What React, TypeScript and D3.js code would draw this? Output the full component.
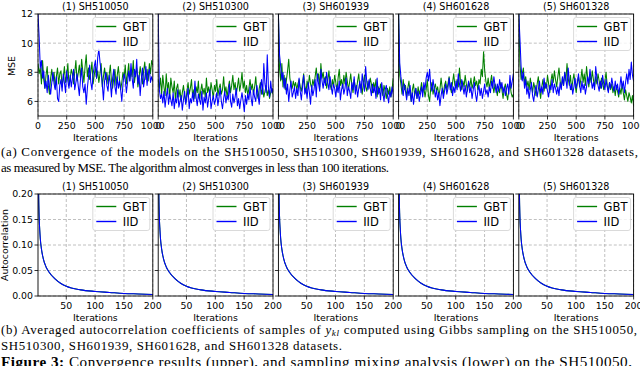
import React from "react";
import * as d3 from "d3";

const titles = ["(1) SH510050", "(2) SH510300", "(3) SH601939", "(4) SH601628", "(5) SH601328"];
const seriesNames = ["GBT", "IID"];
const seriesColors = ["#008000", "#0000ff"];

const mseTicksX = [0, 250, 500, 750, 1000];
const mseTicksY = [6, 8, 10, 12];
const acfTicksX = [50, 100, 150, 200];
const acfTicksY = [0, 0.05, 0.1, 0.15, 0.2];

// MSE sampled every 10 iterations (0..1000)
const mseGBT1 = [8.6, 7.9, 8.3, 7.2, 8.8, 7.5, 6.9, 7.8, 8.4, 7.1, 6.5, 7.6, 8.2, 7.4, 8.0, 6.9, 7.7, 8.3, 7.2, 7.9,
  8.1, 7.0, 7.6, 8.4, 7.3, 7.8, 8.6, 7.1, 7.5, 8.2, 7.9, 7.2, 8.0, 8.8, 7.4, 7.9, 8.5, 7.6, 8.9, 8.1,
  7.3, 8.4, 9.2, 7.7, 8.3, 7.5, 8.0, 8.7, 7.2, 7.8, 8.4, 7.6, 8.1, 7.3, 7.9, 8.6, 7.0, 7.7, 8.3, 7.5,
  8.0, 7.2, 7.8, 8.5, 7.4, 6.9, 7.6, 8.2, 7.1, 7.8, 8.4, 7.5, 6.8, 7.3, 8.0, 7.6, 8.5, 7.2, 7.9, 8.6,
  7.4, 8.1, 7.7, 8.8, 7.3, 7.9, 8.3, 7.0, 7.6, 8.4, 7.8, 7.2, 8.1, 8.7, 7.5, 8.2, 7.4, 8.6, 7.9, 8.8, 8.5];
const mseIID1 = [12.0, 10.4, 8.3, 8.8, 7.6, 8.1, 6.9, 7.4, 6.6, 7.8, 7.0, 6.5, 7.3, 8.0, 7.2, 6.8, 7.7, 6.2, 6.0, 7.1,
  7.5, 6.7, 7.9, 7.3, 6.6, 8.1, 7.4, 6.9, 7.8, 7.0, 7.6, 8.2, 6.8, 7.3, 7.9, 7.1, 6.4, 7.5, 8.3, 7.0,
  6.6, 7.2, 5.8, 6.9, 7.7, 8.5, 7.3, 6.8, 7.9, 8.4, 8.8, 7.6, 9.0, 9.6, 8.7, 8.1, 7.2, 6.1, 7.4, 8.0,
  7.1, 6.7, 7.8, 7.3, 6.3, 7.6, 8.2, 7.0, 6.5, 7.7, 6.9, 7.4, 6.8, 6.0, 7.2, 7.9, 7.5, 6.6, 7.3, 8.1,
  7.4, 8.6, 7.6, 6.9, 8.2, 7.7, 8.9, 7.2, 7.8, 6.4, 7.5, 8.3, 7.0, 7.6, 8.4, 7.1, 7.9, 8.2, 7.3, 7.7, 7.4];
const mseGBT2 = [7.5, 6.9, 7.6, 6.5, 7.8, 7.0, 6.4, 7.9, 6.8, 7.3, 6.2, 7.6, 7.0, 6.6, 7.4, 6.1, 6.9, 7.2, 6.3, 6.8,
  6.0, 6.6, 7.1, 6.4, 5.9, 6.7, 7.3, 6.5, 6.9, 7.5, 6.3, 6.8, 6.2, 7.0, 6.6, 7.4, 6.1, 6.7, 7.2, 6.5,
  6.9, 6.3, 7.6, 6.6, 7.0, 6.4, 7.3, 6.8, 6.2, 7.1, 6.7, 7.5, 6.4, 6.9, 7.2, 6.5, 6.8, 7.7, 6.6, 7.0,
  6.3, 6.9, 7.4, 6.6, 7.1, 7.8, 6.8, 7.3, 6.5, 7.0, 7.6, 6.7, 7.2, 8.0, 6.9, 7.4, 6.6, 7.1, 6.4, 6.9,
  7.5, 6.8, 7.2, 6.5, 7.0, 7.7, 6.6, 6.2, 6.9, 7.3, 6.5, 6.9, 6.3, 6.7, 7.1, 6.4, 6.8, 6.2, 6.6, 6.9, 6.5];
const mseIID2 = [12.0, 6.8, 6.2, 6.5, 5.9, 6.7, 5.6, 6.3, 6.9, 5.8, 6.5, 6.1, 5.7, 6.6, 5.5, 6.2, 5.9, 6.8, 5.6, 6.0,
  6.4, 5.4, 6.1, 6.7, 5.8, 6.3, 6.9, 5.5, 6.2, 5.9, 6.6, 6.0, 7.4, 6.3, 5.7, 6.5, 6.1, 5.8, 6.7, 5.4,
  6.3, 5.9, 6.6, 5.6, 6.2, 6.8, 5.5, 6.0, 6.4, 5.8, 6.1, 6.6, 5.7, 6.3, 6.9, 6.0, 5.5, 6.2, 6.7, 5.9,
  6.4, 6.1, 7.2, 6.0, 5.6, 6.5, 5.9, 6.3, 6.9, 5.7, 6.2, 5.5, 6.1, 6.6, 6.0, 5.3, 6.4, 5.8, 6.5, 6.1,
  7.0, 6.2, 5.7, 6.8, 6.3, 6.0, 7.1, 6.4, 5.8, 6.9, 7.5, 6.5, 8.6, 7.2, 6.6, 9.2, 7.0, 6.3, 7.4, 6.6, 6.9];
const mseGBT3 = [12.0, 8.2, 7.4, 8.6, 7.0, 7.8, 6.8, 7.5, 8.1, 8.9, 7.6, 7.1, 6.9, 7.4, 7.0, 7.3, 6.8, 7.2, 7.5, 7.0,
  6.7, 7.3, 7.9, 7.1, 6.6, 7.4, 7.0, 7.8, 7.2, 6.9, 7.5, 7.1, 7.7, 8.3, 7.4, 7.9, 7.0, 8.6, 7.6, 8.0,
  7.3, 7.7, 6.9, 7.4, 8.1, 7.2, 6.8, 7.5, 7.0, 7.8, 7.3, 6.7, 7.6, 8.2, 7.1, 7.5, 6.9, 7.8, 7.2, 8.0,
  7.4, 6.8, 7.3, 7.9, 7.1, 6.6, 7.5, 7.0, 6.8, 7.4, 7.9, 6.9, 7.2, 6.5, 7.3, 7.8, 7.0, 6.7, 7.4, 6.9,
  7.6, 7.2, 6.6, 7.3, 6.9, 7.5, 6.3, 7.0, 6.6, 7.2, 6.8, 6.4, 7.1, 6.7, 6.2, 6.9, 6.5, 7.0, 6.3, 6.8, 7.6];
const mseIID3 = [12.0, 9.2, 8.4, 7.5, 8.0, 6.9, 7.6, 6.5, 7.2, 6.0, 6.8, 7.4, 6.3, 6.6, 7.0, 6.2, 6.9, 6.4, 7.6, 6.7,
  6.1, 7.0, 7.8, 6.5, 6.9, 6.2, 7.3, 6.6, 5.8, 7.1, 6.4, 6.8, 7.5, 6.3, 7.9, 7.2, 6.7, 8.2, 7.4, 6.9,
  7.6, 7.1, 8.0, 7.3, 6.8, 7.7, 7.0, 6.5, 7.2, 6.9, 6.3, 7.1, 6.6, 7.4, 6.1, 6.8, 7.2, 6.5, 6.9, 7.6,
  6.4, 7.0, 6.7, 6.2, 7.3, 6.8, 7.7, 6.5, 7.1, 6.3, 6.9, 7.4, 6.6, 7.9, 7.2, 6.7, 8.4, 7.3, 6.8, 7.5,
  6.9, 6.4, 7.2, 6.6, 7.0, 6.2, 7.6, 6.5, 6.9, 6.1, 7.3, 6.6, 6.0, 6.8, 7.1, 6.4, 5.9, 6.7, 6.3, 7.0, 6.5];
const mseGBT4 = [12.0, 7.8, 7.2, 6.5, 7.5, 6.8, 7.1, 6.3, 6.9, 7.4, 6.6, 6.0, 6.8, 7.2, 6.4, 6.9, 6.2, 7.0, 6.5, 6.8,
  7.3, 6.6, 7.0, 6.3, 6.8, 7.5, 6.4, 6.0, 6.9, 7.3, 6.5, 6.9, 7.2, 6.7, 7.0, 6.4, 6.8, 7.6, 6.9, 6.5,
  7.1, 7.4, 6.8, 7.2, 7.7, 7.0, 6.6, 7.3, 7.9, 7.1, 6.9, 7.5, 7.0, 8.3, 7.3, 6.8, 7.4, 7.0, 7.8, 7.2,
  6.7, 7.3, 7.0, 7.6, 6.9, 7.2, 7.7, 7.1, 7.4, 6.8, 7.5, 7.2, 8.2, 7.7, 9.4, 8.1, 7.4, 7.0, 7.6, 6.9,
  7.3, 7.8, 7.1, 6.6, 7.2, 6.9, 6.4, 7.0, 6.6, 7.3, 6.8, 6.2, 6.9, 7.2, 6.5, 6.1, 6.8, 7.3, 6.6, 6.3, 6.5];
const mseIID4 = [12.0, 8.6, 7.7, 7.0, 6.4, 7.2, 6.7, 6.1, 6.9, 6.4, 7.1, 6.0, 6.6, 5.8, 6.5, 6.9, 6.2, 6.7, 6.0, 6.5,
  7.0, 6.3, 7.3, 6.8, 7.6, 8.0, 7.4, 8.2, 7.1, 6.7, 7.5, 6.9, 6.3, 6.8, 6.1, 6.6, 5.7, 6.4, 6.9, 6.2,
  6.7, 7.2, 6.5, 6.9, 7.6, 6.8, 7.3, 6.4, 7.0, 6.6, 7.4, 6.8, 7.9, 7.2, 6.7, 7.5, 7.0, 6.5, 7.1, 6.3,
  6.9, 7.4, 6.6, 7.0, 6.2, 6.8, 7.3, 6.5, 6.0, 6.7, 7.1, 6.4, 6.9, 6.2, 6.7, 7.2, 6.5, 6.8, 6.3, 7.0,
  6.6, 7.4, 6.9, 7.7, 7.1, 6.6, 7.2, 6.7, 7.5, 6.9, 7.3, 6.6, 7.0, 6.4, 6.9, 7.2, 6.5, 7.8, 6.9, 7.4, 7.9];
const mseGBT5 = [12.0, 8.6, 7.5, 7.9, 8.3, 7.2, 7.7, 7.0, 7.4, 6.8, 7.6, 7.1, 6.6, 7.3, 6.9, 6.4, 7.2, 7.7, 6.8, 6.2,
  7.0, 7.5, 6.7, 7.3, 6.9, 7.8, 7.2, 6.6, 7.4, 7.9, 7.3, 8.1, 7.5, 7.0, 7.7, 8.3, 7.4, 6.9, 7.6, 7.1,
  8.0, 7.4, 8.6, 7.6, 7.1, 7.8, 6.8, 7.4, 7.9, 7.2, 6.6, 7.3, 7.7, 7.0, 7.5, 8.2, 7.3, 7.9, 7.1, 8.4,
  7.6, 7.0, 7.8, 7.3, 8.1, 7.5, 7.0, 7.7, 7.2, 7.9, 7.4, 6.9, 7.6, 7.2, 6.8, 7.4, 8.0, 7.1, 6.7, 7.3,
  6.8, 7.2, 6.6, 7.0, 6.4, 7.1, 6.7, 6.3, 6.9, 6.5, 7.2, 6.6, 6.1, 6.8, 6.4, 6.0, 6.6, 6.3, 5.9, 6.4, 5.7];
const mseIID5 = [12.0, 10.3, 8.4, 7.4, 8.0, 6.9, 7.5, 6.5, 7.0, 6.2, 6.8, 7.3, 6.4, 6.0, 6.7, 7.1, 6.3, 6.8, 7.4, 6.6,
  7.0, 6.5, 7.6, 6.9, 7.2, 6.7, 6.3, 7.1, 6.8, 7.5, 6.6, 7.2, 6.9, 6.5, 7.0, 6.4, 7.3, 6.8, 7.7, 7.1,
  8.0, 7.5, 6.9, 8.3, 7.4, 6.8, 7.2, 6.5, 7.0, 7.6, 6.9, 7.3, 7.9, 7.1, 6.6, 7.4, 6.8, 7.2, 6.5, 7.0,
  7.7, 7.2, 8.2, 7.5, 6.9, 7.3, 6.8, 8.4, 7.6, 7.1, 6.7, 7.4, 6.9, 7.8, 7.2, 6.8, 7.5, 7.0, 6.6, 7.3,
  6.9, 7.6, 7.1, 6.7, 7.4, 6.8, 7.2, 6.5, 7.0, 7.7, 6.9, 7.4, 6.6, 7.3, 7.9, 7.2, 8.2, 7.5, 8.7, 7.8, 7.4];

const mseGBT = [mseGBT1, mseGBT2, mseGBT3, mseGBT4, mseGBT5];
const mseIID = [mseIID1, mseIID2, mseIID3, mseIID4, mseIID5];
const mseStep = 10;

// Autocorrelation
const acfIters = [1, 2, 3, 4, 5, 7, 10, 15, 20, 30, 40, 50, 75, 100, 125, 150, 175, 200];
const acfGBT = [0.36, 0.21, 0.155, 0.13, 0.112, 0.092, 0.074, 0.057, 0.047, 0.034, 0.025, 0.019, 0.012, 0.009, 0.007, 0.005, 0.004, 0.003];
const acfIID = [0.36, 0.21, 0.155, 0.13, 0.112, 0.092, 0.074, 0.057, 0.047, 0.034, 0.025, 0.019, 0.012, 0.009, 0.007, 0.005, 0.004, 0.003];

const W = 640;
const H = 366;
const panelLeft0 = 38;
const panelStep = 120.2;
const panelW = 114.8;
const FONT = "DejaVu Sans, sans-serif";
const SERIF = "'Liberation Serif', 'Times New Roman', Tinos, serif";
const CAP_SIZE = 12.9;

type PanelProps = {
  idx: number;
  top: number;
  bottom: number;
  xDomain: [number, number];
  yDomain: [number, number];
  xTicks: number[];
  yTicks: number[];
  yFmt: (v: number) => string;
  series: { x: number; y: number }[][];
  curve: d3.CurveFactory;
};

function Panel({ idx, top, bottom, xDomain, yDomain, xTicks, yTicks, yFmt, series, curve }: PanelProps) {
  const left = panelLeft0 + idx * panelStep;
  const right = left + panelW;
  const x = d3.scaleLinear().domain(xDomain).range([left, right]);
  const y = d3.scaleLinear().domain(yDomain).range([bottom, top]);
  const line = d3
    .line<{ x: number; y: number }>()
    .x((d) => x(d.x))
    .y((d) => y(d.y))
    .curve(curve);
  const clipId = `clip-${top}-${idx}`;
  const legX = right - 60;
  const legY = top + 3.5;
  return (
    <g>
      <defs>
        <clipPath id={clipId}>
          <rect x={left} y={top} width={panelW} height={bottom - top} />
        </clipPath>
      </defs>
      {xTicks.map((t) => (
        <line key={"gx" + t} x1={x(t)} x2={x(t)} y1={top} y2={bottom} stroke="#b0b0b0" strokeWidth={0.8} strokeDasharray="3,2" />
      ))}
      {yTicks.map((t) => (
        <line key={"gy" + t} x1={left} x2={right} y1={y(t)} y2={y(t)} stroke="#b0b0b0" strokeWidth={0.8} strokeDasharray="3,2" />
      ))}
      <g clipPath={`url(#${clipId})`}>
        {series.map((s, k) => (
          <path key={k} d={line(s) || ""} fill="none" stroke={seriesColors[k]} strokeWidth={1.05} strokeLinejoin="round" />
        ))}
      </g>
      <rect x={left} y={top} width={panelW} height={bottom - top} fill="none" stroke="#000" strokeWidth={0.9} />
      {xTicks.map((t) => (
        <g key={"tx" + t}>
          <line x1={x(t)} x2={x(t)} y1={bottom} y2={bottom + 3.5} stroke="#000" strokeWidth={0.8} />
          <text x={x(t)} y={bottom + 13} textAnchor="middle" fontFamily={FONT} fontSize={9.4} fill="#000">
            {t}
          </text>
        </g>
      ))}
      {yTicks.map((t) => (
        <g key={"ty" + t}>
          <line x1={left - 3.5} x2={left} y1={y(t)} y2={y(t)} stroke="#000" strokeWidth={0.8} />
          {idx === 0 && (
            <text x={left - 5} y={y(t) + 3.4} textAnchor="end" fontFamily={FONT} fontSize={9.4} fill="#000">
              {yFmt(t)}
            </text>
          )}
        </g>
      ))}
      <text x={(left + right) / 2} y={top - 4.5} textAnchor="middle" fontFamily={FONT} fontSize={9.6} fill="#000">
        {titles[idx]}
      </text>
      <text x={(left + right) / 2} y={bottom + 25} textAnchor="middle" fontFamily={FONT} fontSize={9.4} fill="#000">
        Iterations
      </text>
      <g>
        <rect x={legX} y={legY} width={57} height={33} rx={2.5} fill="#fff" fillOpacity={0.8} stroke="#d0d0d0" strokeWidth={0.8} />
        {seriesNames.map((n, k) => (
          <g key={n}>
            <line x1={legX + 3.5} x2={legX + 23.5} y1={legY + 9 + k * 15} y2={legY + 9 + k * 15} stroke={seriesColors[k]} strokeWidth={1.4} />
            <text x={legX + 30} y={legY + 13 + k * 15} fontFamily={FONT} fontSize={11.5} fill="#000">
              {n}
            </text>
          </g>
        ))}
      </g>
    </g>
  );
}

export default function App() {
  const panels = [0, 1, 2, 3, 4];
  const cap = (y: number, len: number | null, content: React.ReactNode, size: number = CAP_SIZE) => (
    <text
      x={1}
      y={y}
      fontFamily={SERIF}
      fontSize={size}
      fill="#000"
      {...(len ? { textLength: len, lengthAdjust: "spacing" } : {})}
    >
      {content}
    </text>
  );
  return (
    <svg width={W} height={H} style={{ position: "absolute", left: 0, top: 0, background: "#fff" }}>
      <rect x={0} y={0} width={W} height={H} fill="#fff" />
      {panels.map((i) => (
        <Panel
          key={"top" + i}
          idx={i}
          top={14}
          bottom={116}
          xDomain={[0, 1000]}
          yDomain={[5, 12]}
          xTicks={mseTicksX}
          yTicks={mseTicksY}
          yFmt={(v) => String(v)}
          series={[mseGBT[i], mseIID[i]].map((arr) => arr.map((v, j) => ({ x: j * mseStep, y: v })))}
          curve={d3.curveLinear}
        />
      ))}
      {panels.map((i) => (
        <Panel
          key={"bot" + i}
          idx={i}
          top={194}
          bottom={296}
          xDomain={[1, 200]}
          yDomain={[0, 0.2]}
          xTicks={acfTicksX}
          yTicks={acfTicksY}
          yFmt={(v) => v.toFixed(2)}
          series={[acfGBT, acfIID].map((arr) => arr.map((v, j) => ({ x: acfIters[j], y: v })))}
          curve={d3.curveMonotoneX}
        />
      ))}
      <text transform="translate(15,66) rotate(-90)" textAnchor="middle" fontFamily={FONT} fontSize={9.4} fill="#000">
        MSE
      </text>
      <text transform="translate(8,245) rotate(-90)" textAnchor="middle" fontFamily={FONT} fontSize={9.4} fill="#000">
        Autocorrelation
      </text>
      {cap(155.5, 637, "(a) Convergence of the models on the SH510050, SH510300, SH601939, SH601628, and SH601328 datasets,")}
      {cap(171.5, 388, "as measured by MSE. The algorithm almost converges in less than 100 iterations.")}
      {cap(
        333.5,
        636,
        <>
          (b) Averaged autocorrelation coefficients of samples of <tspan fontStyle="italic">y</tspan>
          <tspan fontStyle="italic" fontSize={9.2} dy={2.5}>kl</tspan>
          <tspan dy={-2.5}> computed using Gibbs sampling on the SH510050,</tspan>
        </>
      )}
      {cap(349.5, 341, "SH510300, SH601939, SH601628, and SH601328 datasets.")}
      {cap(
        367,
        631,
        <>
          <tspan fontWeight="bold">Figure 3:</tspan> Convergence results (upper), and sampling mixing analysis (lower) on the SH510050,
        </>,
        15.2
      )}
    </svg>
  );
}
